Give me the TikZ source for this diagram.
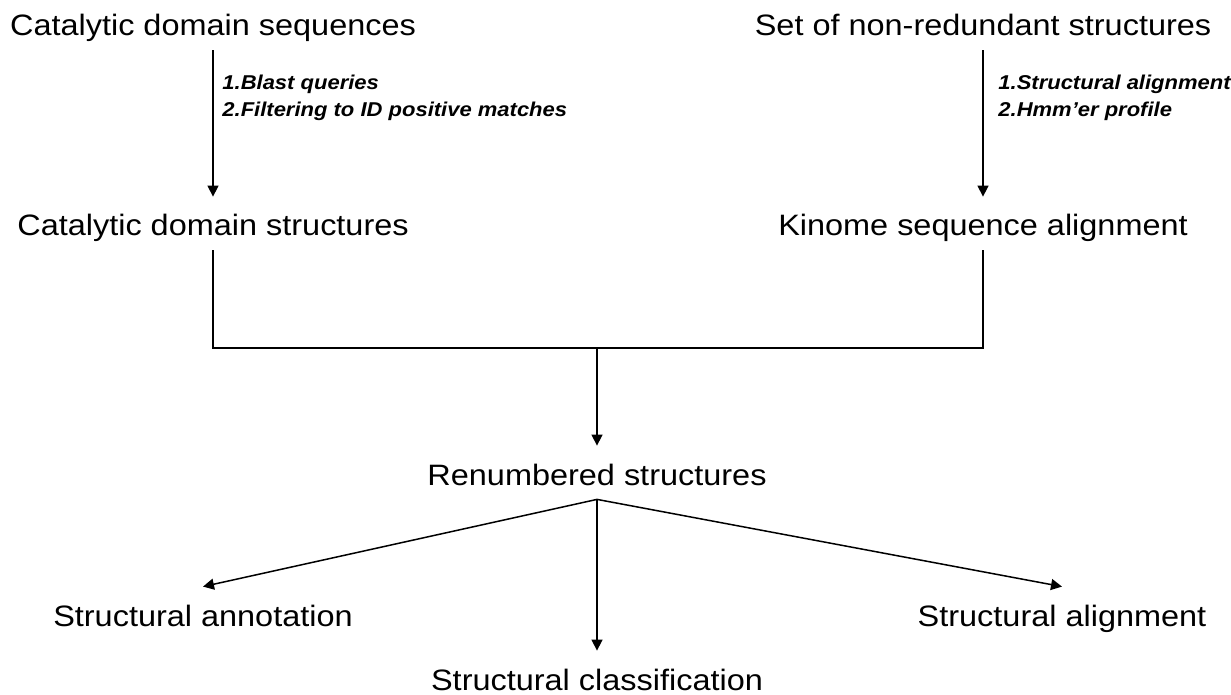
\documentclass[tikz,border=0pt]{standalone}
\usepackage{fontspec}
\setmainfont{Liberation Sans}
\newfontfamily\itemfont[FakeStretch=1.1]{Liberation Sans}
\newfontfamily\notefont[FakeStretch=1.1]{Liberation Sans}
\usetikzlibrary{arrows.meta, positioning}

\begin{document}
\begin{tikzpicture}[x=0.5pt, y=-0.5pt,
  item/.style={anchor=base, inner sep=0pt, text height=19.5pt, text depth=7pt, font=\itemfont\fontsize{14.75}{18}\selectfont},
  note/.style={anchor=base west, align=left, inner sep=0pt, font=\notefont\fontsize{10}{13.5}\selectfont\bfseries\itshape},
  arr/.style={-{Triangle[length=5.5pt,width=5.5pt]}, line width=0.75pt},
  ln/.style={line width=0.75pt}
]
\useasboundingbox (0,0) rectangle (1231,695);

% ----- Inputs (top row) -----
\node[item] (cdseq)  at (213, 36) {Catalytic domain sequences};
\node[item] (nrstr)  at (983, 36) {Set of non-redundant structures};

% ----- Intermediate results -----
\node[item] (cdstr)  at (213, 236) {Catalytic domain structures};
\node[item] (kinome) at (983, 236) {Kinome sequence alignment};

% ----- Step notes -----
\node[note] (stepl) at (222, 117) {1.Blast queries\\2.Filtering to ID positive matches};
\node[note] (stepr) at (998, 117) {1.Structural alignment\\2.Hmm’er profile};

% ----- Merge and outputs -----
\coordinate (join) at (597, 348);
\node[item] (renum)  at (597, 485) {Renumbered structures};
\node[item] (annot)  at (203, 626) {Structural annotation};
\node[item] (classf) at (597, 690) {Structural classification};
\node[item] (align)  at (1062, 626) {Structural alignment};

% ----- Preparation steps -----
\draw[arr] (cdseq) -- (cdstr);
\draw[arr] (nrstr) -- (kinome);

% ----- Merge -----
\draw[ln] (cdstr.south) |- (join) -| (kinome.south);
\draw[arr] (join) -- (renum);

% ----- Analyses -----
\draw[arr] (renum.south) -- (annot.north);
\draw[arr] (renum.south) -- (classf.north);
\draw[arr] (renum.south) -- (align.north);

\end{tikzpicture}
\end{document}
